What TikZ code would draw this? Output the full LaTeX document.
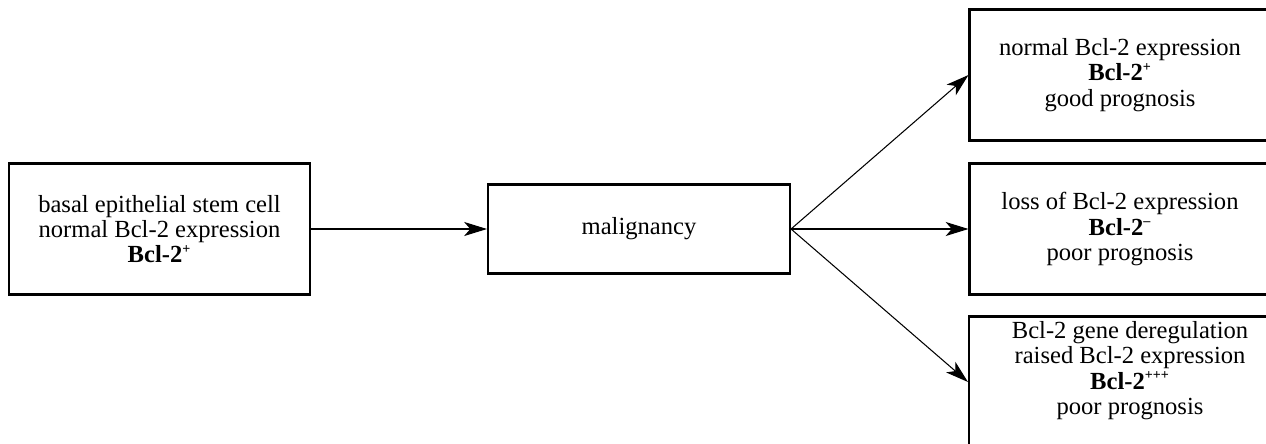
\documentclass[tikz,border=0pt]{standalone}
\usepackage{fontspec}
\setmainfont{Liberation Serif}
\usepackage{tikz}
\usetikzlibrary{arrows.meta,positioning}

\newcommand{\bcl}[1]{\textbf{Bcl-2}\textsuperscript{\footnotesize\bfseries #1}}

\begin{document}
\begin{tikzpicture}[
					x = 0.02cm, y = -0.02cm,
					every node/.style = {font = \fontsize{14}{14.3}\selectfont},
					cellbox/.style = {draw, line width = 1.2pt, align = center, minimum width = 6.02cm, minimum height = 2.62cm, inner sep = 0pt},
					fate/.style = {-{Stealth[length = 13pt, width = 8pt, inset = 3.5pt]}, line width = 0.6pt}
					]

					\useasboundingbox (0,0) rectangle (1266,443);
					\clip (0,0) rectangle (1266,443);

					\node[cellbox] (stem) at (159.5,229) {basal epithelial stem cell\\normal Bcl-2 expression\\\bcl{+}};
					\node[cellbox, minimum width = 6.04cm, minimum height = 1.78cm] (malig) at (639,229) {malignancy};

					\node[cellbox] (good) at (1120,75) {normal Bcl-2 expression\\\bcl{+}\\good prognosis};
					\node[cellbox] (loss) at (1120,229) {loss of Bcl-2 expression\\\bcl{--}\\poor prognosis};
					\node[cellbox, minimum width = 6.44cm] (raised) at (1130,382) {Bcl-2 gene deregulation\\raised Bcl-2 expression\\\bcl{+++}\\poor prognosis\\\rule{0pt}{12pt}};

					\draw[fate] (stem) -- (malig);
					\draw[fate] (malig.east) -- (good.west);
					\draw[fate] (malig.east) -- (loss.west);
					\draw[fate] (malig.east) -- (raised.west);

				\end{tikzpicture}
\end{document}
